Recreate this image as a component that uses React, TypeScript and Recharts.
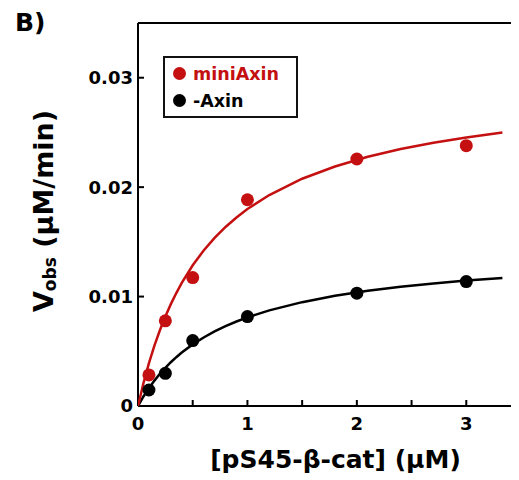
import React from "react";
import { ComposedChart, Scatter, XAxis, YAxis, Legend, Label } from "recharts";

// Measured data points
const concentrations = [0.1, 0.25, 0.5, 1, 2, 3];
const miniAxinRates = [0.00284, 0.00778, 0.01174, 0.01885, 0.02257, 0.02379];
const noAxinRates = [0.00146, 0.00299, 0.00598, 0.00817, 0.01031, 0.01137];

// Fitted curves
const fitConcentrations = [0, 0.05, 0.1, 0.15, 0.2, 0.25, 0.3, 0.35, 0.4, 0.5, 0.6, 0.7, 0.8, 0.9, 1.0, 1.2, 1.5, 1.8, 2.1, 2.4, 2.7, 3.0, 3.33];
const miniAxinFit = [0, 0.00209, 0.00391, 0.00551, 0.00692, 0.00818, 0.00931, 0.01032, 0.01125, 0.01286, 0.01421, 0.01536, 0.01636, 0.01723, 0.018, 0.01928, 0.02077, 0.02189, 0.02277, 0.02348, 0.02406, 0.02454, 0.02499];
const noAxinFit = [0, 0.00087, 0.00163, 0.00232, 0.00294, 0.00349, 0.004, 0.00446, 0.00488, 0.00563, 0.00626, 0.00682, 0.0073, 0.00772, 0.0081, 0.00874, 0.00949, 0.01007, 0.01053, 0.0109, 0.0112, 0.01146, 0.0117];

const xTicks = [0, 0.5, 1, 1.5, 2, 2.5, 3, 3.5];
const yTicks = [0, 0.01, 0.02, 0.03];

const seriesNames = ["miniAxin", "-Axin"];
const RED = "#c41010";
const BLACK = "#000000";
const FONT = "DejaVu Sans";

const toPoints = (xs: number[], ys: number[]) => xs.map((x, i) => ({ x, y: ys[i] }));

const miniAxinPts = toPoints(concentrations, miniAxinRates);
const noAxinPts = toPoints(concentrations, noAxinRates);
const miniAxinCurve = toPoints(fitConcentrations, miniAxinFit);
const noAxinCurve = toPoints(fitConcentrations, noAxinFit);

const tickStyle = { fill: "#000", fontSize: 18, fontWeight: "bold", fontFamily: FONT };

const YTitle = () => (
  <text
    transform="translate(45,203) rotate(-90)"
    textAnchor="middle"
    fontFamily={FONT}
    fontWeight="bold"
    fontSize={27}
    fill="#000"
  >
    V<tspan fontSize={17} dy={3}>obs</tspan>
    <tspan dy={-3}>{"\u00a0(μM/min)"}</tspan>
  </text>
);

const LegendBox = (props: any) => {
  const all = (props.payload || []).filter((p: any) => p.type !== "none");
  const payload = seriesNames
    .map((n) => all.find((p: any) => p.value === n))
    .filter(Boolean);
  return (
    <div
      style={{
        position: "relative",
        width: 135,
        height: 62,
        boxSizing: "border-box",
        border: "2px solid #111",
        background: "#fff",
      }}
    >
      {payload.map((p: any, i: number) => (
        <div
          key={p.value}
          style={{
            position: "absolute",
            left: 0,
            top: 6 + i * 27,
            height: 20,
          }}
        >
          <span
            style={{
              position: "absolute",
              left: 8,
              top: 3,
              width: 13,
              height: 13,
              borderRadius: "50%",
              background: p.color,
            }}
          />
          <span
            style={{
              position: "absolute",
              left: 28,
              top: 0,
              lineHeight: "20px",
              whiteSpace: "nowrap",
              fontFamily: FONT,
              fontWeight: "bold",
              fontSize: 17.5,
              color: p.color,
            }}
          >
            {p.value}
          </span>
        </div>
      ))}
    </div>
  );
};

export default function App() {
  return (
    <div style={{ position: "relative", width: 511, height: 472, overflow: "hidden" }}>
      <div
        style={{
          position: "absolute",
          left: 7,
          top: 2,
          fontFamily: FONT,
          fontWeight: "bold",
          fontSize: 25,
          lineHeight: "25px",
          color: "#000",
          zIndex: 2,
        }}
      >
        B)
      </div>
      <ComposedChart width={520} height={472} margin={{ top: 14, right: 6, bottom: 8, left: 0 }}>
        <XAxis
          dataKey="x"
          type="number"
          domain={[0, 3.5]}
          ticks={xTicks}
          allowDataOverflow
          tickFormatter={(v: number) => (Number.isInteger(v) ? String(v) : "")}
          tick={tickStyle}
          tickSize={-6}
          tickMargin={17}
          height={66}
          axisLine={{ stroke: "#000", strokeWidth: 2 }}
          tickLine={{ stroke: "#000", strokeWidth: 2 }}
        >
          <Label
            value="[pS45-β-cat] (μM)"
            position="insideBottom"
            offset={4}
            dx={6}
            style={{ fill: "#000", fontSize: 25, fontWeight: "bold", fontFamily: FONT }}
          />
        </XAxis>
        <XAxis
          xAxisId="top"
          dataKey="x"
          orientation="top"
          type="number"
          domain={[0, 3.5]}
          ticks={xTicks}
          allowDataOverflow
          tick={false}
          tickSize={-7}
          height={1}
          axisLine={{ stroke: "#000", strokeWidth: 2 }}
          tickLine={{ stroke: "#000", strokeWidth: 2 }}
        />
        <YAxis
          dataKey="y"
          type="number"
          domain={[0, 0.035]}
          ticks={yTicks}
          allowDataOverflow
          tickFormatter={(v: number) => (v === 0 ? "0" : v.toFixed(2))}
          tick={tickStyle}
          tickSize={-6}
          tickMargin={11}
          width={130}
          axisLine={{ stroke: "#000", strokeWidth: 2 }}
          tickLine={{ stroke: "#000", strokeWidth: 2 }}
        >
          <Label content={<YTitle />} />
        </YAxis>
        <YAxis
          yAxisId="right"
          dataKey="y"
          orientation="right"
          type="number"
          domain={[0, 0.035]}
          ticks={yTicks}
          allowDataOverflow
          tick={false}
          tickSize={-7}
          width={1}
          axisLine={{ stroke: "#000", strokeWidth: 2 }}
          tickLine={{ stroke: "#000", strokeWidth: 2 }}
        />
        <Legend
          content={<LegendBox />}
          layout="vertical"
          verticalAlign="middle"
          align="center"
          wrapperStyle={{ left: 155, top: 48, width: 135, height: 62 }}
        />
        <Scatter
          data={noAxinCurve}
          line={{ stroke: BLACK, strokeWidth: 2.5 }}
          lineType="joint"
          shape={() => <g />}
          legendType="none"
          isAnimationActive={false}
        />
        <Scatter
          xAxisId="top"
          yAxisId="right"
          data={miniAxinCurve}
          line={{ stroke: RED, strokeWidth: 2.5 }}
          lineType="joint"
          shape={() => <g />}
          legendType="none"
          isAnimationActive={false}
        />
        <Scatter
          name={seriesNames[1]}
          data={noAxinPts}
          fill={BLACK}
          shape={(p: any) => <circle cx={p.cx} cy={p.cy} r={6.5} fill={BLACK} />}
          isAnimationActive={false}
        />
        <Scatter
          name={seriesNames[0]}
          data={miniAxinPts}
          fill={RED}
          shape={(p: any) => <circle cx={p.cx} cy={p.cy} r={6.5} fill={RED} />}
          isAnimationActive={false}
        />
      </ComposedChart>
    </div>
  );
}
